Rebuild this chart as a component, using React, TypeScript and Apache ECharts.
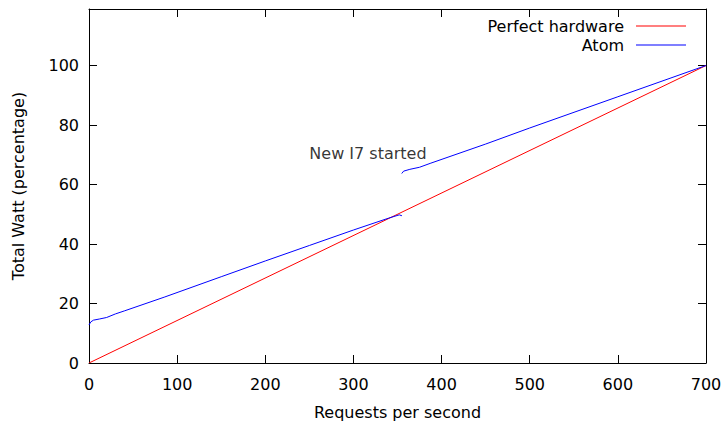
import React, { useEffect, useRef } from "react";
import * as echarts from "echarts";

// Data
const perfectX = [0, 700];
const perfectY = [0, 100];

// Atom measurements (null marks the break where the new I7 started)
const atomX = [0, 2, 5, 12, 20, 30, 40, 86, 150, 200, 250, 300, 340, 352, 355, 355, 354.8, 357, 364, 375, 387, 450, 500, 600, 700];
const atomY = [12.8, 13.8, 14.4, 14.8, 15.3, 16.5, 17.5, 22.2, 29, 34.3, 39.5, 44.7, 48.7, 49.8, 49.5, null, 63.7, 64.5, 65.1, 65.8, 67.1, 73.6, 79, 89.5, 100];

const annotationText = "New I7 started";
const annotationPos = [250, 70.5];

const seriesNames = ["Perfect hardware", "Atom"];
const xTitle = "Requests per second";
const yTitle = "Total Watt (percentage)";

const FONT = "DejaVu Sans";

export default function App() {
  const ref = useRef<HTMLDivElement>(null);

  useEffect(() => {
    document.body.style.margin = "0";
    if (!ref.current) return;
    const chart = echarts.init(ref.current, undefined, { renderer: "svg" });

    const textStyle = { fontFamily: FONT, fontSize: 16, color: "#000" };
    const tick = { show: true, inside: true, length: 8, lineStyle: { color: "#000", width: 1 } };
    const axisLine = { show: true, onZero: false, lineStyle: { color: "#000", width: 1 } };

    const perfectData = perfectX.map((x, i) => [x, perfectY[i]]);
    const atomData = atomX.map((x, i) => [x, atomY[i]]);

    const legendBase = {
      orient: "horizontal" as const,
      align: "right" as const,
      right: 34,
      icon: "rect",
      itemWidth: 50,
      itemHeight: 1,
      itemGap: 0,
      textStyle: { ...textStyle, padding: [0, 7, 0, 0] },
      selectedMode: false,
    };

    chart.setOption({
      animation: false,
      backgroundColor: "#fff",
      textStyle: { fontFamily: FONT },
      grid: { left: 89, right: 19, top: 9, bottom: 57, containLabel: false },
      legend: [
        { ...legendBase, top: 13, data: [seriesNames[0]] },
        { ...legendBase, top: 32, data: [seriesNames[1]] },
      ],
      xAxis: [
        {
          type: "value",
          min: 0,
          max: 700,
          interval: 100,
          name: xTitle,
          nameLocation: "middle",
          nameGap: 41,
          nameTextStyle: textStyle,
          axisLine,
          axisTick: tick,
          axisLabel: { ...textStyle, margin: 13 },
          splitLine: { show: false },
        },
        {
          type: "value",
          position: "top",
          min: 0,
          max: 700,
          interval: 100,
          axisLine,
          axisTick: tick,
          axisLabel: { show: false },
          splitLine: { show: false },
        },
      ],
      yAxis: [
        {
          type: "value",
          min: 0,
          max: 119,
          interval: 20,
          name: yTitle,
          nameLocation: "middle",
          nameGap: 63,
          nameTextStyle: textStyle,
          axisLine,
          axisTick: tick,
          axisLabel: { ...textStyle, margin: 10, showMaxLabel: false },
          splitLine: { show: false },
        },
        {
          type: "value",
          position: "right",
          min: 0,
          max: 119,
          interval: 20,
          axisLine,
          axisTick: tick,
          axisLabel: { show: false },
          splitLine: { show: false },
        },
      ],
      series: [
        {
          name: seriesNames[0],
          type: "line",
          data: perfectData,
          symbol: "none",
          lineStyle: { color: "#ff0000", width: 1 },
          itemStyle: { color: "#ff0000" },
          xAxisIndex: 0,
          yAxisIndex: 0,
        },
        {
          name: seriesNames[1],
          type: "line",
          data: atomData,
          symbol: "none",
          connectNulls: false,
          lineStyle: { color: "#0000ff", width: 1 },
          itemStyle: { color: "#0000ff" },
          xAxisIndex: 0,
          yAxisIndex: 0,
        },
        {
          name: "annotation",
          type: "scatter",
          data: [annotationPos],
          symbolSize: 0,
          silent: true,
          label: {
            show: true,
            position: "right",
            distance: 0,
            formatter: annotationText,
            ...textStyle,
          },
          xAxisIndex: 0,
          yAxisIndex: 0,
        },
      ],
    });

    return () => chart.dispose();
  }, []);

  return <div ref={ref} style={{ width: 725, height: 425 }} />;
}
